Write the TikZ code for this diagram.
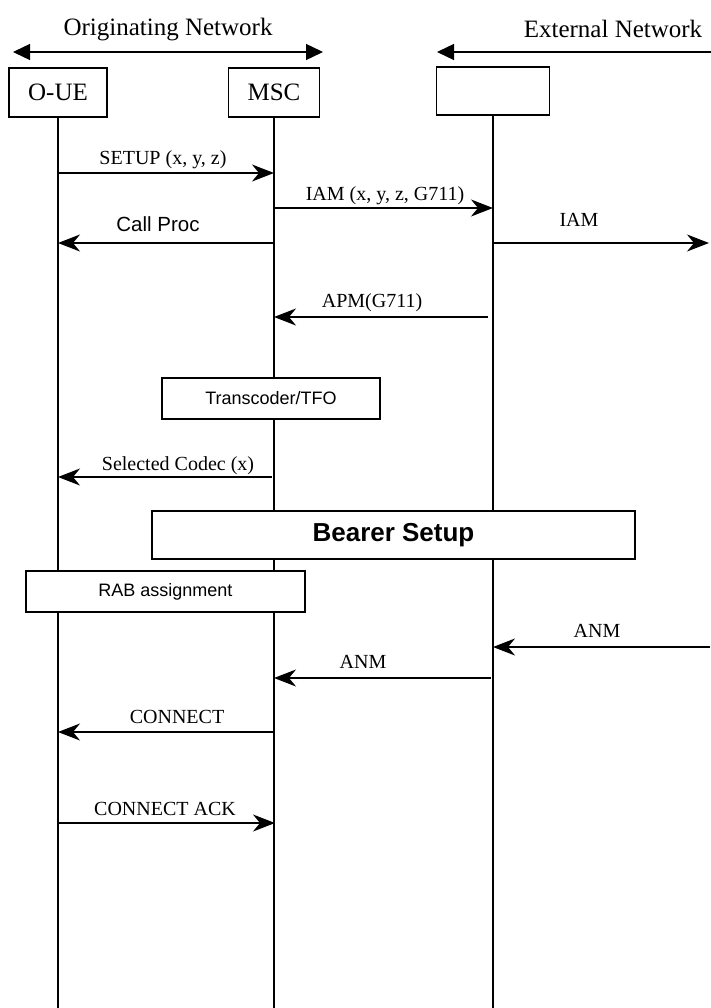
\documentclass[tikz,border=0pt]{standalone}
\usepackage{fontspec}
\setmainfont{Liberation Serif}
\newfontfamily\arialf{Liberation Sans}
\usetikzlibrary{arrows.meta}
\begin{document}
\begin{tikzpicture}[x=1pt,y=-1pt,
  life/.style={line width=1.3pt},
  entity/.style={draw, fill=white, line width=1.1pt, minimum height=49pt, inner sep=0pt, font=\fontsize{25}{30}\selectfont},
  msg/.style={line width=1.3pt, -{Stealth[length=22pt,width=17pt,inset=7pt]}},
  lbl/.style={anchor=base, font=\fontsize{20}{24}\selectfont, inner sep=0pt},
  slbl/.style={anchor=base, font=\arialf\fontsize{20.5}{24}\selectfont, inner sep=0pt},
  proc/.style={draw, fill=white, line width=1.1pt, inner sep=0pt, font=\arialf\fontsize{18}{22}\selectfont},
  net/.style={line width=1.3pt},
  nettip/.style={{Triangle[length=17pt,width=16pt]}},
  hdr/.style={anchor=base, font=\fontsize{25}{30}\selectfont, inner sep=0pt}
]
\useasboundingbox (0,0) rectangle (710,1008);

% network headers
\node[hdr] (orig) at (168,36) {Originating Network};
\node[hdr] (ext) at (613,38) {External Network};
\coordinate (origL) at (13,52);
\coordinate (origR) at (323,52);
\coordinate (extL) at (437,52);
\coordinate (extR) at (712,52);
\draw[net, {Triangle[length=17pt,width=16pt]}-{Triangle[length=17pt,width=16pt]}] (origL) -- (origR);
\draw[net, -{Triangle[length=17pt,width=16pt]}] (extR) -- (extL);

% entities
\node[entity, minimum width=98pt] (oue) at (58,92.5) {O-UE};
\node[entity, minimum width=91pt] (msc) at (274,92.5) {MSC};
\node[entity, minimum width=113pt, minimum height=48pt] (exn) at (493,91) {};

% lifeline ends
\coordinate (oueEnd) at (58,1010);
\coordinate (mscEnd) at (274,1010);
\coordinate (exnEnd) at (493,1010);
\draw[life] (oue.south) -- (oueEnd);
\draw[life] (msc.south) -- (mscEnd);
\draw[life] (exn.south) -- (exnEnd);

% message points
\coordinate (u1) at (58,173);   \coordinate (m1) at (274,173);
\coordinate (m2) at (274,208);  \coordinate (e2) at (493,208);
\coordinate (m3) at (274,243);  \coordinate (u3) at (58,243);
\coordinate (e4) at (493,243);  \coordinate (r4) at (709,243);
\coordinate (e5) at (488,317);  \coordinate (m5) at (274,317);
\coordinate (m6) at (272,477);  \coordinate (u6) at (58,477);
\coordinate (r7) at (710,647);  \coordinate (e7) at (493,647);
\coordinate (e8) at (491,678);  \coordinate (m8) at (274,678);
\coordinate (m9) at (274,732);  \coordinate (u9) at (58,732);
\coordinate (u10) at (58,823);  \coordinate (m10) at (275,823);

\draw[msg] (u1) -- (m1);
\node[lbl] (l1) at (163,165) {SETUP (x, y, z)};
\draw[msg] (m2) -- (e2);
\node[lbl] (l2) at (385,201) {IAM (x, y, z, G711)};
\draw[msg] (m3) -- (u3);
\node[slbl] (l3) at (158,232) {Call Proc};
\draw[msg] (e4) -- (r4);
\node[lbl] (l4) at (579,227) {IAM};
\draw[msg] (e5) -- (m5);
\node[lbl] (l5) at (372,307) {APM(G711)};

% Transcoder box
\node[proc, minimum width=218pt, minimum height=41pt] (tfo) at (271,398.5) {Transcoder/TFO};

\draw[msg] (m6) -- (u6);
\node[lbl] (l6) at (178,470) {Selected Codec (x)};

% Bearer setup
\node[proc, minimum width=483pt, minimum height=48pt, font=\arialf\bfseries\fontsize{26}{30}\selectfont] (bearer) at (393.5,535) {Bearer Setup};
% RAB assignment
\node[proc, minimum width=279pt, minimum height=41pt] (rab) at (165.5,591.5) {RAB assignment};

\draw[msg] (r7) -- (e7);
\node[lbl] (l7) at (597,637) {ANM};
\draw[msg] (e8) -- (m8);
\node[lbl] (l8) at (363,668) {ANM};
\draw[msg] (m9) -- (u9);
\node[lbl] (l9) at (177,723) {CONNECT};
\draw[msg] (u10) -- (m10);
\node[lbl] (l10) at (165,815) {CONNECT ACK};
\end{tikzpicture}
\end{document}
